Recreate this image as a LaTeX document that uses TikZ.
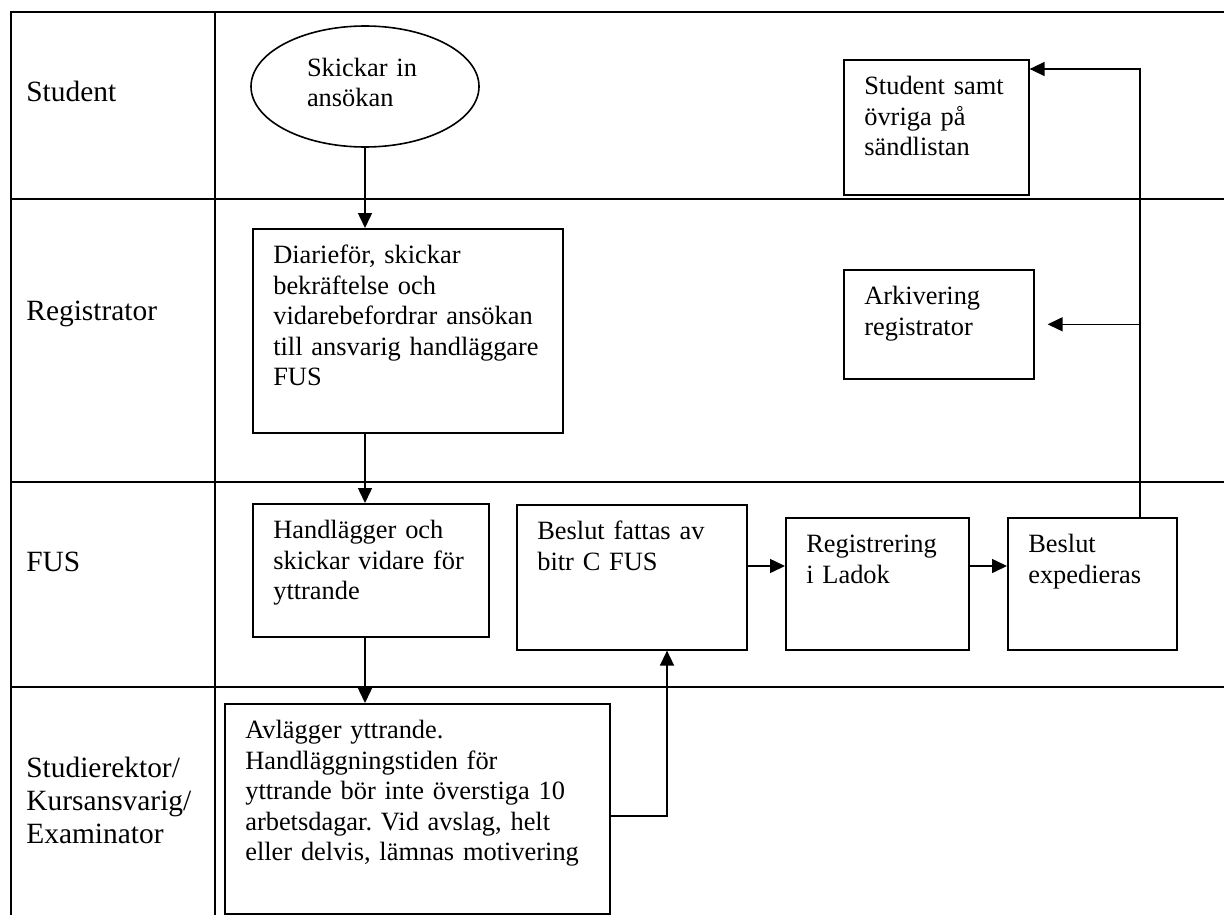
\documentclass[tikz,border=0pt]{standalone}
\usepackage{fontspec}
\setmainfont{Liberation Serif}
\usetikzlibrary{arrows.meta, shapes.geometric, positioning}
\frenchspacing

\newcommand{\boxfont}{\fontsize{13.2}{15.25}\selectfont}
\newcommand{\lanefont}{\fontsize{14.7}{16.5}\selectfont}

\tikzset{
  lane/.style={line width=1pt},
  lanelabel/.style={anchor=north west, inner sep=0pt, align=left,
    text width=90pt, text height=11pt, font=\lanefont},
  procbox/.style={draw, line width=0.8pt, anchor=north west, align=left,
    inner xsep=10.25pt, inner ysep=0pt, text height=17.5pt, font=\boxfont},
  startnode/.style={draw, ellipse, line width=0.8pt, inner sep=0pt,
    minimum width=114pt, minimum height=60.5pt, align=left,
    text width=58pt, text height=5pt, text depth=15.5pt, font=\boxfont},
  flow/.style={line width=0.75pt, -{Triangle[length=7.5pt, width=7pt]}},
}

\begin{document}
\begin{tikzpicture}[x=0.5pt, y=-0.5pt]
    \useasboundingbox (0,0) rectangle (1224,915);

    % -------------------------------------------------------
    % 1. Swimlane grid
    % -------------------------------------------------------
    \draw[lane] (1224,12) -- (11,12) -- (11,915);
    \draw[lane] (214.5,12) -- (214.5,915);
    \foreach \y in {199, 482, 687} {
      \draw[lane] (11,\y) -- (1224,\y);
    }

    % -------------------------------------------------------
    % 2. Lane labels
    % -------------------------------------------------------
    \node[lanelabel] (lstud) at (26,79) {Student};
    \node[lanelabel] (lreg)  at (26,298) {Registrator};
    \node[lanelabel] (lfus)  at (26,549) {FUS};
    \node[lanelabel] (lexam) at (26,755) {Studierektor/\\Kursansvarig/\\Examinator};

    % -------------------------------------------------------
    % 3. Steps
    % -------------------------------------------------------
    \node[startnode] (skick) at (365,86.5) {Skickar in\\ansökan};

    \node[procbox, text width=134.5pt, text depth=84.5pt] (diarie) at (252,228)
      {Diarieför, skickar\\bekräftelse och\\vidarebefordrar ansökan\\till ansvarig handläggare\\FUS};

    \node[procbox, text width=97.5pt, text depth=49pt] (handl) at (252,503)
      {Handlägger och\\skickar vidare för\\yttrande};

    \node[procbox, text width=172pt, text depth=87.5pt] (avl) at (224,703)
      {Avlägger yttrande.\\Handläggningstiden för\\yttrande bör inte överstiga 10\\arbetsdagar. Vid avslag, helt\\eller delvis, lämnas motivering};

    \node[procbox, text width=94.5pt, text depth=55pt] (beslut) at (516,504)
      {Beslut fattas av\\bitr C FUS};

    \node[procbox, text width=71pt, text depth=48.5pt] (reg) at (785,517)
      {Registrering\\i Ladok};

    \node[procbox, text width=64pt, text depth=48.5pt] (exped) at (1007,517)
      {Beslut\\expedieras};

    \node[procbox, text width=72pt, text depth=50pt] (sandl) at (843,59)
      {Student samt\\övriga på\\sändlistan};

    \node[procbox, text width=74.5pt, text depth=37pt] (arkiv) at (843,269)
      {Arkivering\\registrator};

    % -------------------------------------------------------
    % 4. Flow
    % -------------------------------------------------------
    \coordinate (turn) at (667,816);
    \coordinate (fusline) at (0,566);
    \coordinate (corner) at (1140,69);

    \draw[flow] (skick.south) -- (skick.south |- diarie.north);
    \draw[flow] (skick.south |- diarie.south) -- (skick.south |- handl.north);
    \draw[flow] (skick.south |- handl.south) -- (skick.south |- avl.north);

    \draw[flow] (avl.east |- turn) -- (turn) -- (turn |- beslut.south);
    \draw[flow] (beslut.east |- fusline) -- (reg.west |- fusline);
    \draw[flow] (reg.east |- fusline) -- (exped.west |- fusline);

    \draw[flow] (exped.north -| corner) -- (corner) -- (corner -| sandl.east);
    \draw[flow, shorten >=6.5pt] (corner |- arkiv.east) -- (arkiv.east);
\end{tikzpicture}
\end{document}
